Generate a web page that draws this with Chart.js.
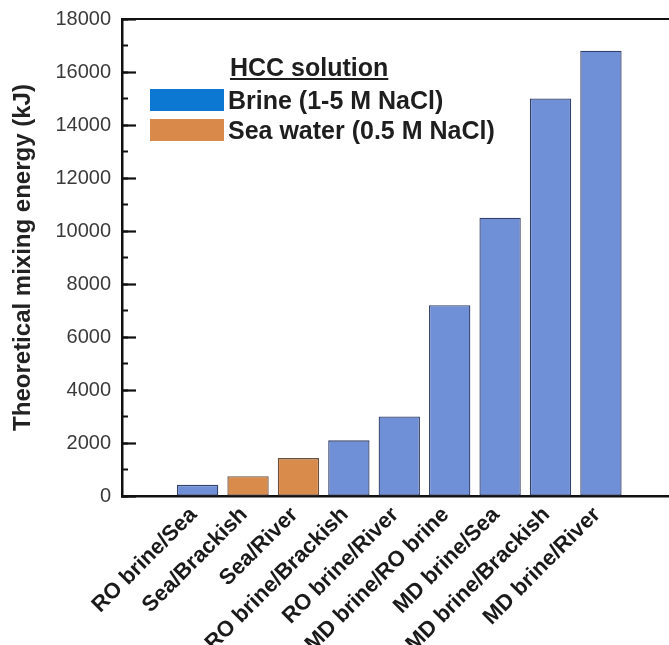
<!DOCTYPE html>
<html>
<head>
<meta charset="utf-8">
<script src="https://cdn.jsdelivr.net/npm/chart.js@4"></script>
<style>
  html, body { margin: 0; padding: 0; background: #fff; overflow: hidden; }
  #wrap { position: relative; width: 669px; height: 645px; }
  #legend { position: absolute; left: 0; top: 0; font-family: "Liberation Sans", Arial, sans-serif; color: #1e1e1e; }
  .lg-title { position: absolute; left: 230px; top: 53px; font-size: 25px; font-weight: bold; text-decoration: underline; white-space: nowrap; line-height: 28px; }
  .lg-sw { position: absolute; left: 150px; width: 74px; height: 22px; }
  .lg-tx { position: absolute; left: 228px; font-size: 25px; font-weight: bold; white-space: nowrap; line-height: 28px; }
</style>
</head>
<body>
<div id="wrap">
  <canvas id="c" width="669" height="645"></canvas>
  <div id="legend"></div>
</div>
<script>
// ---- data ----
const categories = ['RO brine/Sea', 'Sea/Brackish', 'Sea/River', 'RO brine/Brackish', 'RO brine/River',
                    'MD brine/RO brine', 'MD brine/Sea', 'MD brine/Brackish', 'MD brine/River'];
const mixingEnergy = [420, 750, 1430, 2100, 3000, 7200, 10500, 15000, 16800];
const hccSolution = ['Brine', 'Sea water', 'Sea water', 'Brine', 'Brine', 'Brine', 'Brine', 'Brine', 'Brine'];
const seriesNames = ['Brine', 'Sea water'];
const seriesLegendLabels = ['Brine (1-5 M NaCl)', 'Sea water (0.5 M NaCl)'];
const yTickValues = [0, 2000, 4000, 6000, 8000, 10000, 12000, 14000, 16000, 18000];

// ---- styles ----
const barFill = { 'Brine': '#6f8fd6', 'Sea water': '#d98b4b' };
const barEdge = { 'Brine': '#33406a', 'Sea water': '#6b5040' };
const legendFill = { 'Brine': '#0d78d1', 'Sea water': '#d98a4a' };

const datasets = seriesNames.map(name => ({
  label: name,
  data: categories.map((c, i) => hccSolution[i] === name ? { x: i + 1, y: mixingEnergy[i] } : null).filter(p => p),
  backgroundColor: barFill[name],
  borderColor: barEdge[name],
  borderWidth: 1.3,
  borderSkipped: false,
  grouped: false,
  barPercentage: 0.82,
  categoryPercentage: 1.0
}));

const xMin = -0.5, xMax = 10.35;

new Chart(document.getElementById('c'), {
  type: 'bar',
  data: { datasets },
  options: {
    responsive: false,
    animation: false,
    layout: { padding: { top: 19, left: 0, right: 0, bottom: 0 } },
    plugins: { legend: { display: false }, tooltip: { enabled: false } },
    scales: {
      x: {
        type: 'linear', position: 'bottom', min: xMin, max: xMax, offset: false, z: 1,
        grid: { display: false, drawTicks: false, tickLength: 0 },
        border: { display: true, color: '#111', width: 2.5 },
        afterBuildTicks: s => { s.ticks = categories.map((c, i) => ({ value: i + 1 })); },
        afterFit: s => { s.height = 149; },
        ticks: {
          autoSkip: false, maxRotation: 45, minRotation: 45, padding: 6, labelOffset: -4,
          color: '#1a1a1a',
          font: { family: '"Liberation Sans", Arial, sans-serif', size: 22, weight: 'bold' },
          callback: v => categories[v - 1] ?? ''
        }
      },
      xTop: {
        type: 'linear', position: 'top', min: xMin, max: xMax, offset: false, z: 1,
        grid: { display: false, drawTicks: false, tickLength: 0 },
        border: { display: true, color: '#111', width: 2 },
        ticks: { display: false },
        afterFit: s => { s.height = 0; }
      },
      y: {
        type: 'linear', position: 'left', min: 0, max: 18000, weight: 1, z: 1,
        afterBuildTicks: s => { s.ticks = yTickValues.map(v => ({ value: v })); },
        afterFit: s => { s.width = 122; s.paddingTop = 0; s.paddingBottom = 0; },
        grid: { display: true, drawOnChartArea: false, drawTicks: true, tickLength: -14, tickColor: '#111', tickWidth: 2.2 },
        border: { display: true, color: '#111', width: 2.5 },
        ticks: {
          padding: 25, color: '#3a3a3a',
          font: { family: '"Liberation Sans", Arial, sans-serif', size: 20 },
          callback: v => String(v)
        },
        title: {
          display: true, text: 'Theoretical mixing energy (kJ)', color: '#222',
          font: { family: '"Liberation Sans", Arial, sans-serif', size: 24, weight: 'bold' },
          padding: { top: 9, bottom: 0 }
        }
      },
      yMinor: {
        type: 'linear', position: 'left', min: 0, max: 18000, weight: 0, z: 1,
        ticks: { display: false, stepSize: 1000 },
        grid: { display: true, drawOnChartArea: false, drawTicks: true, tickLength: -6, tickColor: '#111', tickWidth: 2 },
        border: { display: false },
        afterFit: s => { s.width = 0; }
      }
    }
  }
});

// ---- legend (HTML overlay, built from the series arrays) ----
const lg = document.getElementById('legend');
const t = document.createElement('div');
t.className = 'lg-title'; t.textContent = 'HCC solution';
lg.appendChild(t);
seriesNames.forEach((name, k) => {
  const top = 89 + k * 30;
  const sw = document.createElement('div');
  sw.className = 'lg-sw'; sw.style.top = top + 'px'; sw.style.background = legendFill[name];
  lg.appendChild(sw);
  const tx = document.createElement('div');
  tx.className = 'lg-tx'; tx.style.top = (top - 3) + 'px'; tx.textContent = seriesLegendLabels[k];
  lg.appendChild(tx);
});
</script>
</body>
</html>
